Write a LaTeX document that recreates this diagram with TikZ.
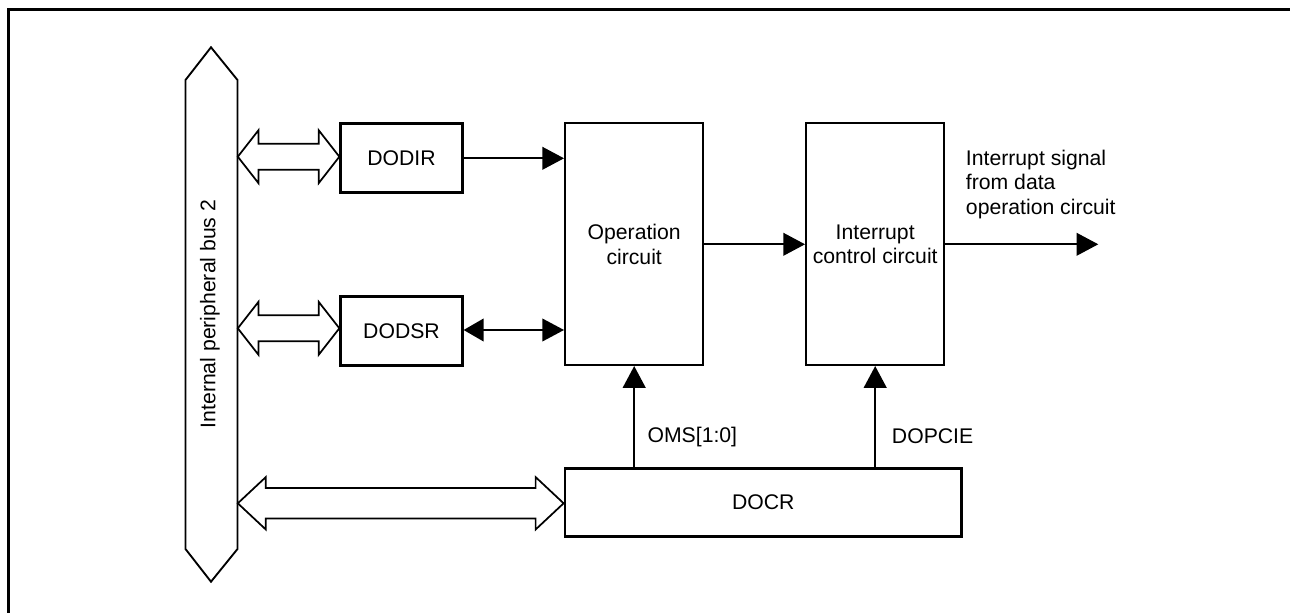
\documentclass[tikz,border=0pt]{standalone}
\usepackage{fontspec}
\setmainfont{Liberation Sans}
\usetikzlibrary{arrows.meta,calc}
\newcommand\hollowdbl[5]{% tipA, tipB, head length, head half, shaft half
  \draw[hollow] (#1) -- ($(#1)+(#3,-#4)$) -- ($(#1)+(#3,-#5)$) -- ($(#2)+(-#3,-#5)$)
    -- ($(#2)+(-#3,-#4)$) -- (#2) -- ($(#2)+(-#3,#4)$) -- ($(#2)+(-#3,#5)$)
    -- ($(#1)+(#3,#5)$) -- ($(#1)+(#3,#4)$) -- cycle;}
\begin{document}
\begin{tikzpicture}[x=0.75pt,y=-0.75pt,
  every node/.style={font=\fontsize{15.9}{18.5}\selectfont},
  regbox/.style={draw,line width=2pt,minimum width=121.6*0.75pt,minimum height=69.4*0.75pt,inner sep=0pt},
  circbox/.style={draw,line width=1.5pt,minimum width=138.3*0.75pt,minimum height=241.7*0.75pt,inner sep=0pt,align=center},
  sig/.style={line width=1.35pt,-{Triangle[length=16.3pt,width=17pt]}},
  sigdbl/.style={line width=1.35pt,{Triangle[length=15pt,width=17pt]}-{Triangle[length=16.3pt,width=17pt]}},
  hollow/.style={draw,line width=1.3pt,line join=miter,fill=white},
  lbl/.style={anchor=west,inner sep=0pt,align=left}]
\useasboundingbox (0,0) rectangle (1290,613);
% frame
\draw[line width=2.2pt] (8.7,620) -- (8.7,9.5) -- (1300,9.5);
% bus
\draw[line width=1.4pt,line join=miter] (211,47.3) -- (237.5,80) -- (237.5,549) -- (211,581.7)
  -- (185.5,549) -- (185.5,80) -- cycle;
\node[rotate=90,inner sep=0pt] (buslbl) at (210,314) {Internal peripheral bus 2};
\coordinate (busE) at (237.8,300);
% boxes
\node[regbox] (dodir) at (401.5,158) {DODIR};
\node[regbox] (dodsr) at (401.5,331) {DODSR};
\node[circbox] (op) at (634.2,244.2) {Operation\\circuit};
\node[circbox] (int) at (875.2,244.2) {Interrupt\\control circuit};
\node[draw,line width=2pt,minimum width=396.7*0.75pt,minimum height=68.4*0.75pt,inner sep=0pt] (docr) at (763.3,502.5) {DOCR};
% hollow bus arrows
\coordinate (a1) at (busE |- 0,156.7);
\coordinate (b1) at (dodir.west |- 0,156.7);
\hollowdbl{a1}{b1}{20.7}{26.5}{13}
\coordinate (a2) at (busE |- 0,328.3);
\coordinate (b2) at (dodsr.west |- 0,328.3);
\hollowdbl{a2}{b2}{20.7}{26.5}{13}
\coordinate (a3) at (busE |- 0,503.3);
\coordinate (b3) at (docr.west |- 0,503.3);
\hollowdbl{a3}{b3}{28}{26.2}{15.2}
% signal arrows
\draw[sig] (dodir.east |- 0,158.3) -- (op.west |- 0,158.3);
\draw[sigdbl] (dodsr.east |- 0,330) -- (op.west |- 0,330);
\draw[sig] (op.east |- 0,244.3) -- (int.west |- 0,244.3);
\coordinate (out) at (1098.3,244.3);
\draw[sig] (int.east |- out) -- (out);
\draw[sig] (docr.north -| op.south) -- (op.south);
\draw[sig] (docr.north -| int.south) -- (int.south);
% labels
\node[lbl] (oms) at (647.3,436.7) {OMS[1:0]};
\node[lbl] (dopcie) at (891.7,436.7) {DOPCIE};
\node[lbl] (irq) at (965.7,184.5) {Interrupt signal\\from data\\operation circuit};
\end{tikzpicture}
\end{document}
